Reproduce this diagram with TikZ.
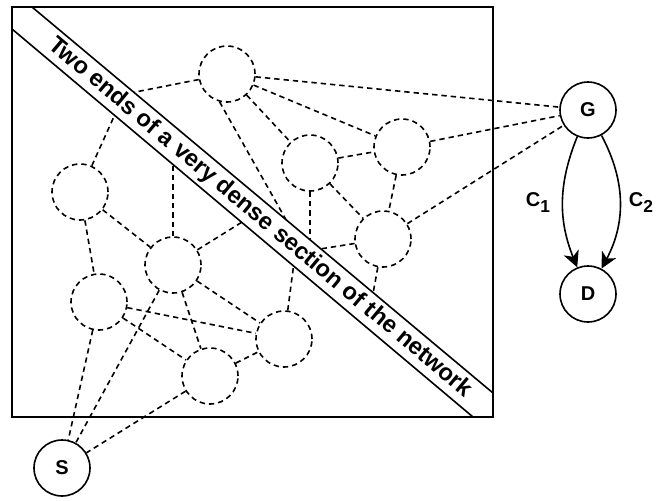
\documentclass[tikz,border=0pt]{standalone}
\usepackage{fontspec}
\setmainfont{Liberation Sans}
\usetikzlibrary{arrows.meta}
\newcommand{\chlabel}[2]{#1\raisebox{-4.5pt}{\fontsize{13}{13}\selectfont #2}}

\begin{document}
\begin{tikzpicture}[x=0.75pt,y=0.75pt,
  font=\fontsize{15}{18}\selectfont\bfseries,
  state/.style={draw,circle,line width=1.2pt,minimum size=42pt},
  hidden/.style={state,dash pattern=on 4pt off 3pt},
  link/.style={line width=1.2pt,dash pattern=on 4pt off 3pt},
  chan/.style={line width=1.2pt,-{Stealth[length=12pt,width=12pt,inset=3.5pt]}}]
\tikzstyle{every node}+=[inner sep=0pt]
\useasboundingbox (0,0) rectangle (667,-500);
\node [hidden] (n1) at (227,-74) {};
\node [hidden] (n2) at (310,-163) {};
\node [hidden] (n3) at (402,-147) {};
\node [hidden] (n4) at (80,-192) {};
\node [hidden] (n5) at (383,-239) {};
\node [hidden] (n6) at (173,-265) {};
\node [hidden] (n7) at (99,-302) {};
\node [hidden] (n8) at (284,-339) {};
\node [hidden] (n9) at (210,-376) {};
\node [state] (S) at (62,-468) {S};
\node [state] (G) at (588,-110) {G};
\node [state] (D) at (588,-294) {D};
\coordinate (k1) at (115,-96);
\coordinate (k2) at (121,-101);
\coordinate (k3) at (307,-257);
\coordinate (k4) at (296,-247);
\coordinate (k5) at (255,-214);
\coordinate (k6) at (173,-145);
\coordinate (k7) at (310,-260);
\coordinate (k8) at (301,-252);
\coordinate (k9) at (370,-310);
\draw [link] (n1) -- (G);
\draw [link] (n1) -- (n3);
\draw [link] (n1) -- (n2);
\draw [link] (n2) -- (n3);
\draw [link] (n2) -- (n5);
\draw [link] (n3) -- (n5);
\draw [link] (n3) -- (G);
\draw [link] (n5) -- (G);
\draw [link] (n4) -- (n6);
\draw [link] (n4) -- (n7);
\draw [link] (n6) -- (n8);
\draw [link] (n6) -- (n9);
\draw [link] (n7) -- (n8);
\draw [link] (n7) -- (n9);
\draw [link] (n9) -- (n8);
\draw [link] (n6) -- (S);
\draw [link] (n7) -- (S);
\draw [link] (n9) -- (S);
\draw [link] (n1) -- (k1);
\draw [link] (n4) -- (k2);
\draw [link] (n1.255) -- (k3);
\draw [link] (n8) -- (k4);
\draw [link] (n6) -- (k5);
\draw [link] (n6) -- (k6);
\draw [link] (n2) -- (k7);
\draw [link] (n5) -- (k8);
\draw [link] (n5) -- (k9);
\fill [white] (12,-7) -- (32,-7) -- (493,-393) -- (493,-417) -- (473,-417) -- (12,-29) -- cycle;
\draw [line width=1.2pt] (32,-7) -- (493,-393);
\draw [line width=1.2pt] (12,-29) -- (473,-417);
\node [rotate=-40,font=\fontsize{17.8}{20}\selectfont\bfseries] (band) at (260,-218) {Two ends of a very dense section of the network};
\draw [line width=1.2pt] (12,-7) rectangle (493,-417);
\draw [chan] (G) to[bend right=22] (D);
\draw [chan] (G) to[bend left=28] (D);
\node (c1) at (538,-203) {\chlabel{C}{1}};
\node (c2) at (641,-203) {\chlabel{C}{2}};
\end{tikzpicture}
\end{document}
